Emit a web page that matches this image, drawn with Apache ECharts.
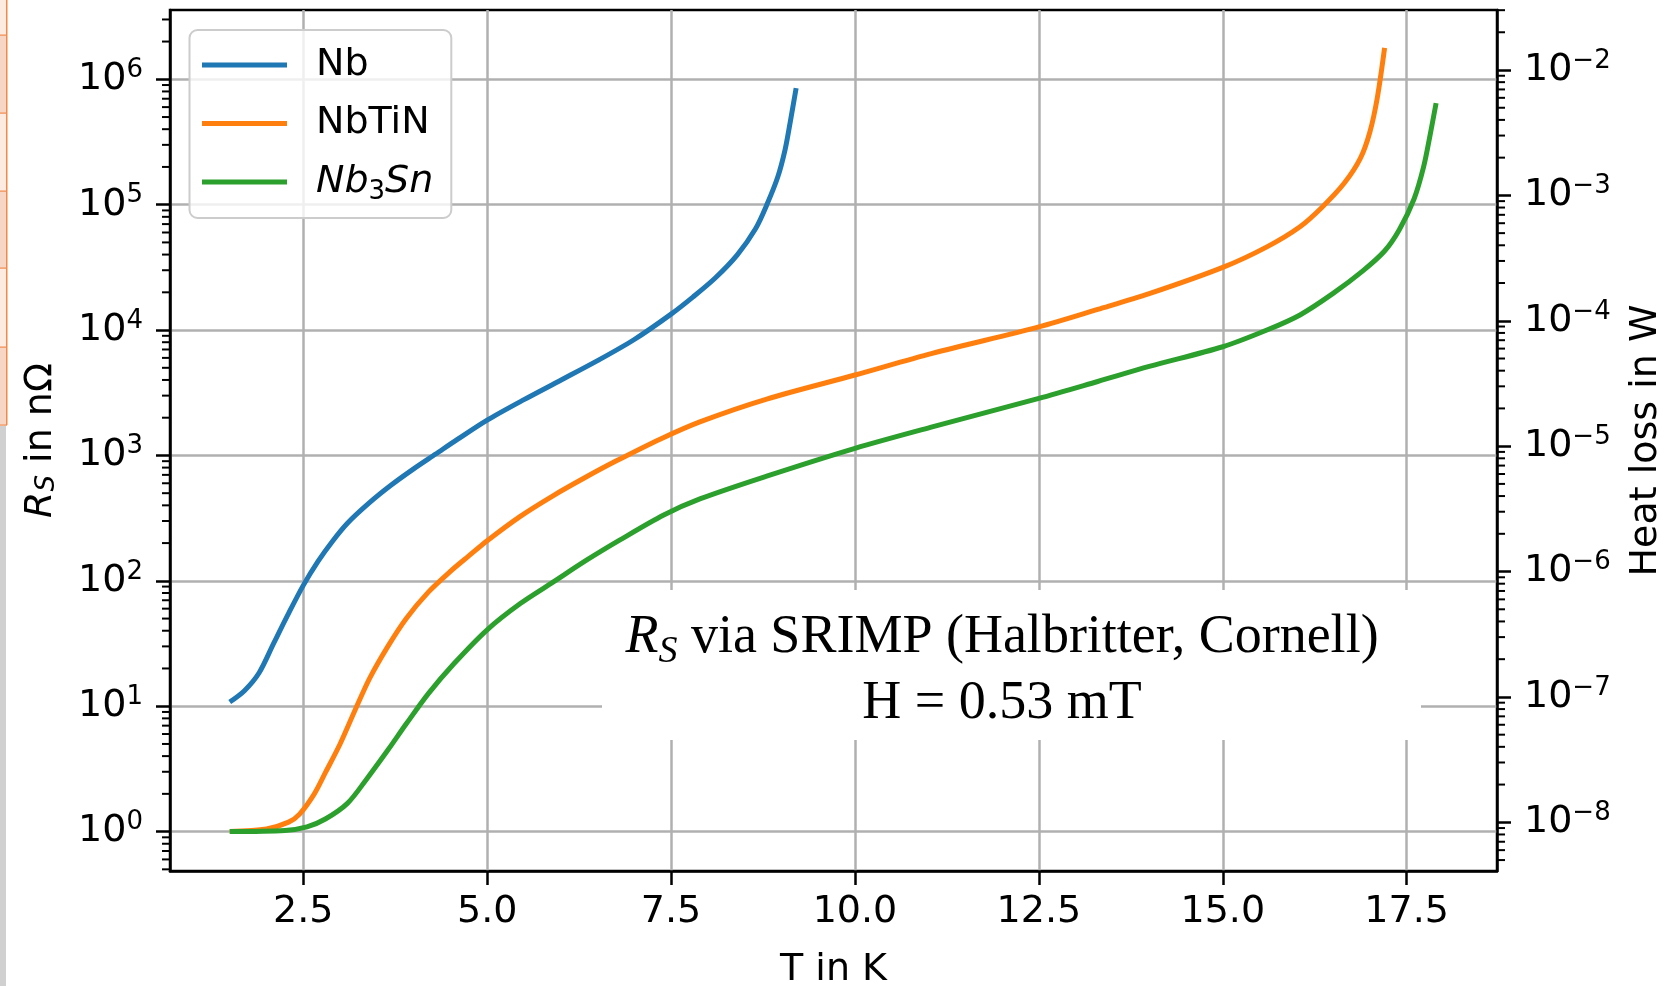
<!DOCTYPE html>
<html lang="en">
<head>
    <meta charset="UTF-8">
    <title>Rs vs T</title>
    <script src="https://cdn.jsdelivr.net/npm/echarts@6/dist/echarts.min.js"></script>
    <style>
        html, body { margin: 0; padding: 0; background: #fff; }
        #main { width: 1669px; height: 986px; }
    </style>
</head>
<body>
<div id="main"></div>
<script type="text/javascript">
    // data: temperature in K, surface resistance in nOhm
    var T_NB = [1.5, 1.7, 1.9, 2.1, 2.3, 2.5, 2.7, 2.9, 3.1, 3.4, 3.7, 4.0, 4.3, 4.6, 5.0, 5.5, 6.0, 6.5, 7.0, 7.5, 7.8, 8.1, 8.4, 8.65, 8.8, 8.95, 9.05, 9.12, 9.2];
    var RS_NB = [10.8, 13.3, 18.5, 32, 55, 92, 143, 208, 288, 420, 583, 781, 1026, 1349, 1914, 2786, 3980, 5700, 8410, 13400, 18400, 26000, 39800, 64600, 99300, 166000, 275000, 457000, 850000];

    var T_NBTIN = [1.5, 2.0, 2.3, 2.45, 2.65, 2.8, 3.0, 3.2, 3.4, 3.65, 3.9, 4.2, 4.5, 4.75, 5.0, 5.45, 5.9, 6.35, 6.75, 7.35, 7.9, 8.8, 10.0, 11.05, 12.5, 13.3, 14.0, 15.0, 15.6, 16.05, 16.35, 16.65, 16.87, 17.0, 17.1, 17.2];
    var RS_NBTIN = [1.0, 1.05, 1.19, 1.38, 2.0, 2.95, 5.0, 9.2, 16.6, 30, 50.1, 81.3, 119, 158, 209, 327, 479, 676, 902, 1349, 1862, 2818, 4380, 6520, 10600, 14600, 19500, 31600, 46100, 66700, 95500, 148000, 234000, 380000, 708000, 1780000];

    var T_NB3SN = [1.5, 2.25, 2.55, 2.8, 3.1, 3.35, 3.65, 3.9, 4.2, 4.55, 5.0, 5.45, 5.9, 6.35, 6.8, 7.4, 7.9, 8.8, 10.0, 11.05, 12.5, 13.3, 14.0, 15.0, 15.6, 16.05, 16.5, 16.9, 17.2, 17.4, 17.6, 17.73, 17.82, 17.9];
    var RS_NB3SN = [1.0, 1.02, 1.09, 1.26, 1.68, 2.57, 4.47, 7.24, 12.6, 21.9, 40.7, 65.9, 98, 146, 211, 335, 452, 684, 1140, 1690, 2850, 3890, 5130, 7360, 10000, 13200, 19600, 29500, 42700, 63100, 111000, 200000, 363000, 646000];

    var X_TICKS = [2.5, 5.0, 7.5, 10.0, 12.5, 15.0, 17.5];
    var Y_TICKS = [1, 10, 100, 1e3, 1e4, 1e5, 1e6];
    var Y2_TICKS = [1e-8, 1e-7, 1e-6, 1e-5, 1e-4, 1e-3, 1e-2];
    var MINOR_STEPS = [2, 3, 4, 5, 6, 7, 8, 9];

    // axis ranges
    var X_MIN = 0.688, X_MAX = 18.728;
    var Y_MIN = 0.485, Y_MAX = 3.57e6;
    var Y2_MIN = 4.09e-9, Y2_MAX = 0.0301;

    var FONT = 'DejaVu Sans';
    var SERIF = 'Liberation Serif';

    function pairs(xs, ys) {
        var out = [];
        for (var i = 0; i < xs.length; i++) out.push([xs[i], ys[i]]);
        return out;
    }

    // log minor tick positions (2..9 per decade) inside [lo, hi]
    function minorTicks(lo, hi, x) {
        var out = [];
        var k0 = Math.floor(Math.log10(lo)), k1 = Math.ceil(Math.log10(hi));
        for (var k = k0; k <= k1; k++) {
            for (var j = 0; j < MINOR_STEPS.length; j++) {
                var v = MINOR_STEPS[j] * Math.pow(10, k);
                if (v > lo && v < hi) out.push([x, v]);
            }
        }
        return out;
    }

    function tickRenderer(dx) {
        return function (params, api) {
            var p = api.coord([api.value(0), api.value(1)]);
            return {
                type: 'line',
                shape: {x1: p[0], y1: p[1], x2: p[0] + dx, y2: p[1]},
                style: {stroke: '#000', lineWidth: 2}
            };
        };
    }

    function powLabel(v) {
        var e = Math.round(Math.log10(v));
        return '10{sup|' + String(e).replace('-', '\u2212') + '}';
    }

    var labelRich = {
        sup: {fontFamily: FONT, fontSize: 26, lineHeight: 30, verticalAlign: 'top', color: '#000'}
    };
    var axisLineStyle = {color: '#000', width: 2.5};
    var gridLineStyle = {color: '#b0b0b0', width: 2.5};

    var myChart = echarts.init(document.getElementById('main'));

    var option = {
        animation: false,
        backgroundColor: '#fff',
        grid: {
            left: 170, top: 10, width: 1327, height: 861,
            show: true, borderColor: '#000', borderWidth: 2.5,
            containLabel: false, outerBoundsMode: 'none'
        },
        legend: {
            data: ['Nb', 'NbTiN', 'Nb3Sn'],
            orient: 'vertical',
            left: 189.5, top: 30,
            icon: 'rect', itemWidth: 85, itemHeight: 5, itemGap: 12.5,
            padding: [12, 18, 13, 12.5],
            backgroundColor: 'rgba(255,255,255,0.8)',
            borderColor: '#cccccc', borderWidth: 2, borderRadius: 8,
            selectedMode: false,
            formatter: function (name) {
                return name === 'Nb3Sn' ? '{it|Nb}{sub|3}{it|Sn}' : name;
            },
            textStyle: {
                fontFamily: FONT, fontSize: 38, lineHeight: 46, color: '#000',
                padding: [0, 0, 0, 24],
                rich: {
                    it: {fontFamily: FONT, fontStyle: 'italic', fontSize: 38, lineHeight: 46, color: '#000'},
                    sub: {fontFamily: FONT, fontSize: 26, lineHeight: 26, verticalAlign: 'bottom', color: '#000'}
                }
            }
        },
        xAxis: {
            type: 'value', min: X_MIN, max: X_MAX,
            name: 'T in K', nameLocation: 'middle', nameGap: 80,
            nameTextStyle: {fontFamily: FONT, fontSize: 38, color: '#000'},
            axisLine: {show: true, lineStyle: axisLineStyle},
            axisTick: {show: true, length: 14, lineStyle: axisLineStyle, customValues: X_TICKS},
            axisLabel: {
                customValues: X_TICKS, margin: 22,
                fontFamily: FONT, fontSize: 38, color: '#000',
                formatter: function (v) { return v.toFixed(1); }
            },
            splitLine: {show: true, lineStyle: gridLineStyle}
        },
        yAxis: [{
            type: 'log', logBase: 10, position: 'left', min: Y_MIN, max: Y_MAX,
            name: '{it|R}{sub|S} in n\u03a9', nameLocation: 'middle', nameGap: 110, nameRotate: 90,
            nameTextStyle: {
                fontFamily: FONT, fontSize: 38, color: '#000',
                rich: {
                    it: {fontFamily: FONT, fontStyle: 'italic', fontSize: 38, color: '#000'},
                    sub: {fontFamily: FONT, fontStyle: 'italic', fontSize: 26, verticalAlign: 'bottom', color: '#000'}
                }
            },
            axisLine: {show: true, lineStyle: axisLineStyle},
            axisTick: {show: true, length: 14, lineStyle: axisLineStyle, customValues: Y_TICKS},
            axisLabel: {
                customValues: Y_TICKS, margin: 27,
                fontFamily: FONT, fontSize: 38, lineHeight: 44, color: '#000',
                formatter: powLabel, rich: labelRich
            },
            splitLine: {show: true, lineStyle: gridLineStyle},
            minorTick: {show: false}
        }, {
            type: 'log', logBase: 10, position: 'right', min: Y2_MIN, max: Y2_MAX,
            name: 'Heat loss in W', nameLocation: 'middle', nameGap: 130, nameRotate: 90,
            nameTextStyle: {fontFamily: FONT, fontSize: 38, color: '#000'},
            axisLine: {show: true, lineStyle: axisLineStyle},
            axisTick: {show: true, length: 14, lineStyle: axisLineStyle, customValues: Y2_TICKS},
            axisLabel: {
                customValues: Y2_TICKS, margin: 27,
                fontFamily: FONT, fontSize: 38, lineHeight: 44, color: '#000',
                formatter: powLabel, rich: labelRich
            },
            splitLine: {show: false},
            minorTick: {show: false}
        }],
        series: [
            {
                name: 'Nb', type: 'line', data: pairs(T_NB, RS_NB),
                showSymbol: false, smooth: 0.3,
                lineStyle: {width: 5, color: '#1f77b4', join: 'round'}, itemStyle: {color: '#1f77b4'}, z: 5
            },
            {
                name: 'NbTiN', type: 'line', data: pairs(T_NBTIN, RS_NBTIN),
                showSymbol: false, smooth: 0.3,
                lineStyle: {width: 5, color: '#ff7f0e', join: 'round'}, itemStyle: {color: '#ff7f0e'}, z: 5
            },
            {
                name: 'Nb3Sn', type: 'line', data: pairs(T_NB3SN, RS_NB3SN),
                showSymbol: false, smooth: 0.3,
                lineStyle: {width: 5, color: '#2ca02c', join: 'round'}, itemStyle: {color: '#2ca02c'}, z: 5
            },
            {
                name: 'minorLeft', type: 'custom', yAxisIndex: 0, clip: false, silent: true,
                data: minorTicks(Y_MIN, Y_MAX, X_MIN), renderItem: tickRenderer(-8)
            },
            {
                name: 'minorRight', type: 'custom', yAxisIndex: 1, clip: false, silent: true,
                data: minorTicks(Y2_MIN, Y2_MAX, X_MAX), renderItem: tickRenderer(8)
            }
        ],
        graphic: [
            // white box behind the annotation
            {type: 'rect', z: 50, shape: {x: 602, y: 590, width: 819, height: 150}, style: {fill: '#fff'}},
            {
                type: 'text', z: 51, x: 1002, y: 671,
                style: {
                    text: '{ri|R}{rs|S} via SRIMP (Halbritter, Cornell)\nH = 0.53 mT',
                    align: 'center', verticalAlign: 'middle',
                    fontFamily: SERIF, fontSize: 54, lineHeight: 66, fill: '#000',
                    rich: {
                        ri: {fontFamily: SERIF, fontStyle: 'italic', fontSize: 54, lineHeight: 66},
                        rs: {fontFamily: SERIF, fontStyle: 'italic', fontSize: 38, lineHeight: 40, verticalAlign: 'bottom'}
                    }
                }
            },
            // screenshot edge on the left
            {type: 'rect', shape: {x: 0, y: 0, width: 7, height: 35}, style: {fill: '#fdebe2'}},
            {type: 'rect', shape: {x: 0, y: 35, width: 7, height: 78}, style: {fill: '#f8d6c6'}},
            {type: 'rect', shape: {x: 0, y: 113, width: 7, height: 78}, style: {fill: '#fdebe2'}},
            {type: 'rect', shape: {x: 0, y: 191, width: 7, height: 77}, style: {fill: '#f8d6c6'}},
            {type: 'rect', shape: {x: 0, y: 268, width: 7, height: 79}, style: {fill: '#fdebe2'}},
            {type: 'rect', shape: {x: 0, y: 347, width: 7, height: 78}, style: {fill: '#f8d6c6'}},
            {type: 'rect', shape: {x: 6, y: 0, width: 1.5, height: 425}, style: {fill: '#f08a4b'}},
            {type: 'rect', shape: {x: 0, y: 34.5, width: 7, height: 1.2}, style: {fill: '#f08a4b'}},
            {type: 'rect', shape: {x: 0, y: 112.5, width: 7, height: 1.2}, style: {fill: '#f08a4b'}},
            {type: 'rect', shape: {x: 0, y: 190.5, width: 7, height: 1.2}, style: {fill: '#f08a4b'}},
            {type: 'rect', shape: {x: 0, y: 267.5, width: 7, height: 1.2}, style: {fill: '#f08a4b'}},
            {type: 'rect', shape: {x: 0, y: 346.5, width: 7, height: 1.2}, style: {fill: '#f08a4b'}},
            {type: 'rect', shape: {x: 0, y: 424.5, width: 7, height: 1.2}, style: {fill: '#f08a4b'}},
            {type: 'rect', shape: {x: 0, y: 426, width: 6, height: 560}, style: {fill: '#d0d0d0'}}
        ]
    };

    myChart.setOption(option);
</script>
</body>
</html>
